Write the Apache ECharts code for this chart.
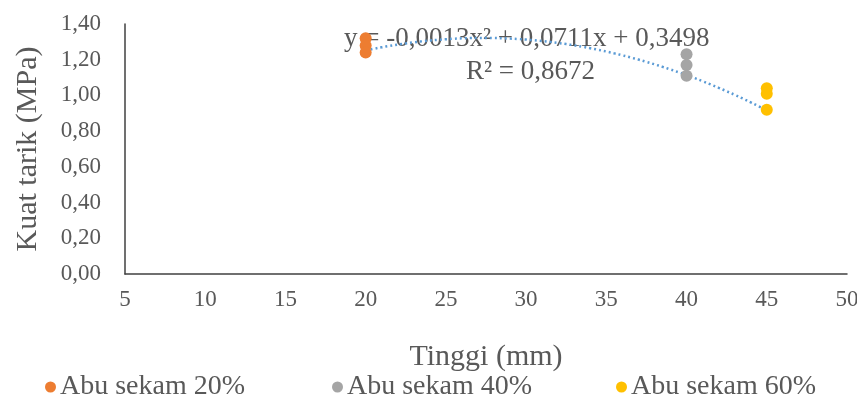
<!DOCTYPE html>
<html>
<head>
<meta charset="utf-8">
<script src="https://cdn.jsdelivr.net/npm/echarts@6/dist/echarts.min.js"></script>
<style>
  html, body { margin: 0; padding: 0; background: #fff; }
  #chart { width: 857px; height: 398px; }
</style>
</head>
<body>
<div id="chart"></div>
<script>
// Measured tensile strength per specimen height
const seriesNames = ['Abu sekam 20%', 'Abu sekam 40%', 'Abu sekam 60%'];
const heights20 = [20, 20, 20];
const values20 = [1.32, 1.28, 1.24];
const heights40 = [40, 40, 40];
const values40 = [1.23, 1.17, 1.11];
const heights60 = [45, 45, 45];
const values60 = [1.04, 1.01, 0.92];

// Polynomial trendline (order 2) coefficients: a*x^2 + b*x + c
const trendCoef = [-0.0013, 0.0711, 0.3498];
const trendRange = [20, 45];
const trendText = ['y = -0,0013x² + 0,0711x + 0,3498', 'R² = 0,8672'];

const xTicks = [5, 50, 5];      // min, max, interval
const yTicks = [0, 1.4, 0.2];

const trendData = [];
for (let x = trendRange[0]; x <= trendRange[1] + 1e-9; x += 0.5) {
  trendData.push([x, trendCoef[0] * x * x + trendCoef[1] * x + trendCoef[2]]);
}

const pair = (xs, ys) => xs.map((x, i) => [x, ys[i]]);
const colors = ['#ED7D31', '#A5A5A5', '#FFC000'];
const font = '"Liberation Serif", "Times New Roman", serif';
const textColor = '#595959';
const fmt = v => v.toFixed(2).replace('.', ',');

const chart = echarts.init(document.getElementById('chart'));
const legendBase = {
  top: 368, icon: 'circle', itemWidth: 11, itemHeight: 11, itemGap: 4,
  textStyle: { fontFamily: font, fontSize: 28, color: textColor, padding: [0, 0, 0, -1] }
};
chart.setOption({
  animation: false,
  color: colors,
  grid: { left: 125, right: 10, top: 24, bottom: 124, outerBoundsMode: 'none', containLabel: false },
  xAxis: {
    type: 'value', min: xTicks[0], max: xTicks[1], interval: xTicks[2],
    name: 'Tinggi (mm)', nameLocation: 'middle', nameGap: 68,
    nameTextStyle: { fontFamily: font, fontSize: 30, color: textColor },
    axisLine: { show: true, lineStyle: { color: '#404040', width: 1.5 } },
    axisTick: { show: false },
    splitLine: { show: false },
    axisLabel: { fontFamily: font, fontSize: 23, color: textColor, margin: 14 }
  },
  yAxis: {
    type: 'value', min: yTicks[0], max: yTicks[1], interval: yTicks[2],
    name: 'Kuat tarik (MPa)', nameLocation: 'middle', nameGap: 82,
    nameTextStyle: { fontFamily: font, fontSize: 30, color: textColor },
    axisLine: { show: true, lineStyle: { color: '#404040', width: 1.5 } },
    axisTick: { show: false },
    splitLine: { show: false },
    axisLabel: { fontFamily: font, fontSize: 23, color: textColor, margin: 24, formatter: fmt }
  },
  legend: [
    Object.assign({}, legendBase, { left: 40, data: [seriesNames[0]] }),
    Object.assign({}, legendBase, { left: 327, data: [seriesNames[1]] }),
    Object.assign({}, legendBase, { left: 611, data: [seriesNames[2]] })
  ],
  graphic: [
    { type: 'text', left: 344, top: 25, z: 0,
      style: { text: trendText[0], fontFamily: font, fontSize: 27, fill: textColor } },
    { type: 'text', left: 466, top: 58, z: 0,
      style: { text: trendText[1], fontFamily: font, fontSize: 27, fill: textColor } }
  ],
  series: [
    { name: seriesNames[0], type: 'scatter', symbolSize: 12, itemStyle: { opacity: 1 },
      data: pair(heights20, values20), z: 5 },
    { name: seriesNames[1], type: 'scatter', symbolSize: 12, itemStyle: { opacity: 1 },
      data: pair(heights40, values40), z: 5 },
    { name: seriesNames[2], type: 'scatter', symbolSize: 12, itemStyle: { opacity: 1 },
      data: pair(heights60, values60), z: 5 },
    { name: 'trend', type: 'line', data: trendData, smooth: true, showSymbol: false, symbol: 'none',
      lineStyle: { color: '#5B9BD5', width: 2.5, type: [2, 3] }, z: 4, silent: true }
  ]
});
</script>
</body>
</html>
